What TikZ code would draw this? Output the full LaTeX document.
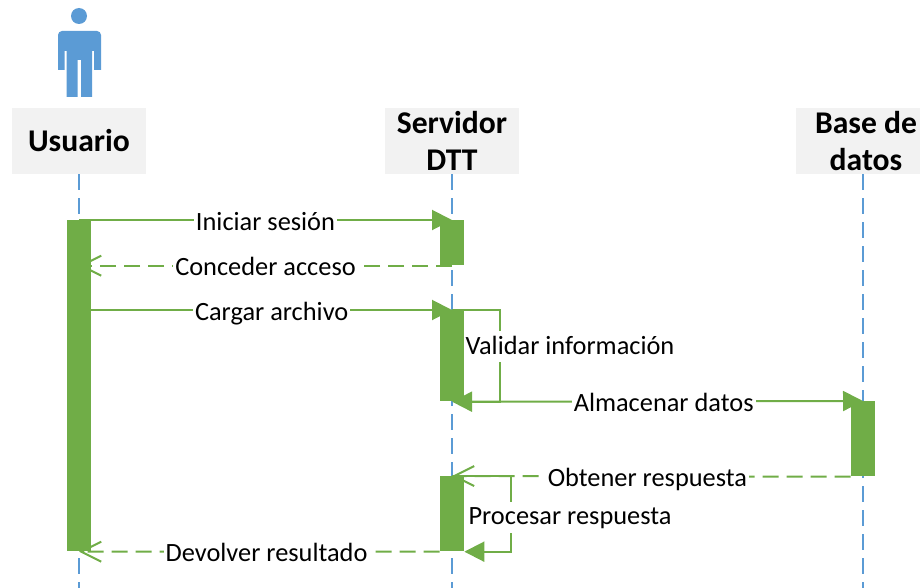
\documentclass[tikz,border=0pt]{standalone}
\usepackage{fontspec}
\setmainfont{Carlito}
\usetikzlibrary{arrows.meta}
\definecolor{barcolor}{HTML}{70AD47}
\definecolor{lifecolor}{HTML}{5B9BD5}
\definecolor{headcolor}{HTML}{F2F2F2}
\tikzset{
  head/.style={fill=headcolor,minimum width=2.68cm,minimum height=1.32cm,inner sep=0pt,align=center,font=\fontsize{18}{21.4}\selectfont\bfseries},
  activation/.style={fill=barcolor,minimum width=.48cm,inner sep=0pt,anchor=north},
  lifeline/.style={draw=lifecolor,line width=.05cm,dash pattern=on .32cm off .16cm},
  msg/.style={draw=barcolor,line width=.04cm},
  callmsg/.style={msg,-{Triangle[length=.4cm,width=.4cm]}},
  replymsg/.style={msg,dash pattern=on .32cm off .16cm,-{Straight Barb[length=.4cm,width=.4cm]}},
  msglabel/.style={fill=white,inner xsep=.04cm,inner ysep=0pt,minimum height=.64cm,text depth=.06cm,yshift=-.05cm,font=\fontsize{15}{17}\selectfont}
}
\begin{document}
\begin{tikzpicture}[x=.02cm,y=-.02cm]
        \useasboundingbox (0,0) rectangle (920,588);

        \fill[lifecolor] (79,16) circle (8);
        \fill[lifecolor] (58,70) [rounded corners=.08cm] -- (58,31) -- (101,31) [sharp corners] -- (101,70) -- (94,70) -- (94,51) -- (92,51) -- (92,97) -- (81,97) -- (81,60) -- (77.5,60) -- (77.5,97) -- (66.5,97) -- (66.5,51) -- (64.5,51) -- (64.5,70) -- cycle;

        \node[head] (usuario) at (79,141){Usuario};
        \node[head] (servidor) at (452,141){Servidor\\DTT};
        \node[head,minimum width=2.8cm] (base) at (866,141){Base de\\datos};

        \coordinate (usuarioEnd) at (79,588);
        \coordinate (servidorEnd) at (452,588);
        \coordinate (baseEnd) at (863,588);
        \path[lifeline] (usuario.south) -- (usuarioEnd);
        \path[lifeline] (servidor.south) -- (servidorEnd);
        \path[lifeline] (base.south -| baseEnd) -- (baseEnd);

        \node[activation,minimum height=6.62cm] (usuarioBar) at (79,220){};
        \node[activation,minimum height=.9cm] (servidorBarA) at (452,220){};
        \node[activation,minimum height=1.82cm] (servidorBarB) at (452,310){};
        \node[activation,minimum height=1.5cm] (baseBar) at (863,401){};
        \node[activation,minimum height=1.5cm] (servidorBarC) at (452,476){};

        \coordinate (validarCorner) at (500,310);
        \coordinate (procesarCorner) at (511,476);

        \path[callmsg] (usuarioBar.north) -- node[msglabel]{Iniciar sesión} (servidorBarA.north);
        \path[replymsg] (servidorBarA.south) -- node[msglabel]{Conceder acceso} (servidorBarA.south -| usuarioBar.north);
        \path[callmsg] (usuarioBar.east |- servidorBarB.north) -- node[msglabel]{Cargar archivo} (servidorBarB.north);
        \path[callmsg] (servidorBarB.north) -- (validarCorner) |- (servidorBarB.south);
        \node[msglabel] (validar) at (570,344){Validar información};
        \path[callmsg] (servidorBarB.south east) -- node[msglabel]{Almacenar datos} (baseBar.north);
        \path[replymsg] (baseBar.south west) -- node[msglabel,pos=.51]{Obtener respuesta} (servidorBarC.north);
        \path[callmsg] (servidorBarC.north) -- (procesarCorner) |- (servidorBarC.south east);
        \node[msglabel] (procesar) at (570,515){Procesar respuesta};
        \path[replymsg] (servidorBarC.south west) -- node[msglabel,pos=.48]{Devolver resultado} (usuarioBar.south);
\end{tikzpicture}
\end{document}
